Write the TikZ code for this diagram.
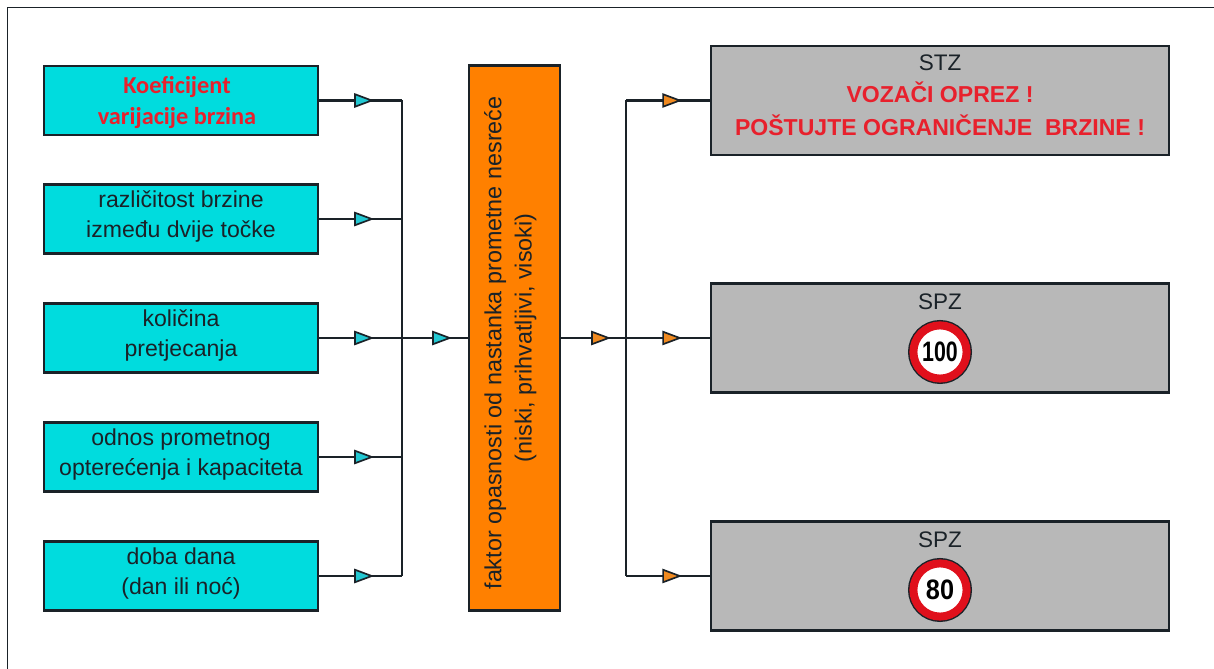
\documentclass[tikz,border=0pt]{standalone}
\usepackage{fontspec}
\setmainfont{Liberation Sans}
\newfontfamily\calibrifont{Carlito}
\usetikzlibrary{arrows.meta,decorations.markings}
\definecolor{boxcyan}{HTML}{00DCDE}
\definecolor{tipcyan}{HTML}{22C8D2}
\definecolor{boxorange}{HTML}{FF8000}
\definecolor{tiporange}{HTML}{F08A20}
\definecolor{boxgray}{HTML}{B8B8B8}
\definecolor{signred}{HTML}{E0101C}
\definecolor{textred}{HTML}{E8202C}
\definecolor{inkdark}{HTML}{1A2228}

\begin{document}
\begin{tikzpicture}[
    factor/.style={rectangle, draw=inkdark, fill=boxcyan, line width=1.5pt, minimum width=6.85cm, minimum height=1.725cm, align=center, text=inkdark, text depth=0.23cm, font=\fontsize{16.4}{21.5}\selectfont},
    redfactor/.style={factor, text=textred, text depth=0cm, font=\calibrifont\bfseries\fontsize{17.3}{22.5}\selectfont},
    danger/.style={rectangle, draw=inkdark, fill=boxorange, line width=1.5pt, minimum width=13.625cm, minimum height=2.275cm, align=center, rotate=90, text=inkdark, text depth=0.33cm, font=\fontsize{16.6}{21.5}\selectfont},
    zone/.style={rectangle, draw=inkdark, fill=boxgray, line width=1.5pt, minimum width=11.45cm, minimum height=2.725cm},
    zonetitle/.style={text=inkdark, font=\fontsize{16}{18}\selectfont},
    sign/.style={circle, fill=white, draw=signred, line width=0.2cm, minimum size=1.33cm, inner sep=0pt, preaction={draw=inkdark, line width=0.27cm}, font=\bfseries\fontsize{20}{22}\selectfont},
    wire/.style={draw=inkdark, line width=1.5pt},
    cyanflow/.style={wire, postaction={decorate, decoration={markings, mark=at position #1 with {\arrow{Triangle[length=0.5cm, width=0.36cm, fill=tipcyan, line width=1.2pt]}}}}},
    orangeflow/.style={wire, postaction={decorate, decoration={markings, mark=at position #1 with {\arrow{Triangle[length=0.5cm, width=0.36cm, fill=tiporange, line width=1.2pt]}}}}}
]
\useasboundingbox (0, 0) rectangle (30.35, 16.725);

% Frame
\coordinate (framebl) at (0.1875, 0);
\coordinate (frametl) at (0.1875, 16.5375);
\coordinate (frametr) at (30.35, 16.5375);
\draw[inkdark, line width=0.9pt] (framebl) -- (frametl) -- (frametr);

% Input factors
\node[redfactor] (coef) at (4.525, 14.2125) {Koeficijent\hspace*{0.2cm}\\varijacije brzina\hspace*{0.2cm}};
\node[factor] (diff) at (4.525, 11.25) {različitost brzine\\između dvije točke};
\node[factor] (pass) at (4.525, 8.275) {količina\\pretjecanja};
\node[factor] (load) at (4.525, 5.3) {odnos prometnog\\opterećenja i kapaciteta};
\node[factor] (time) at (4.525, 2.325) {doba dana\\(dan ili noć)};

% Danger factor
\node[danger] (risk) at (12.8625, 8.275) {faktor opasnosti od nastanka prometne nesreće\hspace*{0.25cm}\\(niski, prihvatljivi, visoki)};

% Output zones
\node[zone] (stz) at (23.5, 14.2125) {};
\node[zone] (spzhigh) at (23.5, 8.275) {};
\node[zone] (spzlow) at (23.5, 2.325) {};

\node[zonetitle] (stztitle) at (23.5, 15.15) {STZ};
\node[text=textred, font=\bfseries\fontsize{16.4}{23.5}\selectfont, align=center] (stzwarn) at (23.5, 14.0) {VOZAČI OPREZ !\\POŠTUJTE OGRANIČENJE\ \ BRZINE !};
\node[zonetitle] (hightitle) at (23.5, 9.175) {SPZ};
\node[zonetitle] (lowtitle) at (23.5, 3.225) {SPZ};

% Speed signs
\node[sign] (sign100) at (23.5, 7.925) {\scalebox{0.76}[1]{100}};
\node[sign] (sign80) at (23.5, 1.975) {\scalebox{0.9}[1]{80}};

% Collecting bus
\coordinate (busa) at (10.05, 14.2125);
\coordinate (busb) at (10.05, 11.25);
\coordinate (busc) at (10.05, 8.275);
\coordinate (busd) at (10.05, 5.3);
\coordinate (buse) at (10.05, 2.325);
\draw[wire] (busa) -- (buse);
\draw[cyanflow=0.665] (coef.east) -- (busa);
\draw[cyanflow=0.665] (diff.east) -- (busb);
\draw[cyanflow=0.665] (pass.east) -- (busc);
\draw[cyanflow=0.665] (load.east) -- (busd);
\draw[cyanflow=0.665] (time.east) -- (buse);
\draw[cyanflow=0.76] (busc) -- (risk.north);

% Distribution bus
\coordinate (outa) at (15.65, 14.2125);
\coordinate (outb) at (15.65, 8.275);
\coordinate (outc) at (15.65, 2.325);
\draw[wire] (outa) -- (outc);
\draw[orangeflow=0.77] (risk.south) -- (outb);
\draw[orangeflow=0.67] (outa) -- (stz.west);
\draw[orangeflow=0.67] (outb) -- (spzhigh.west);
\draw[orangeflow=0.67] (outc) -- (spzlow.west);

\end{tikzpicture}
\end{document}
